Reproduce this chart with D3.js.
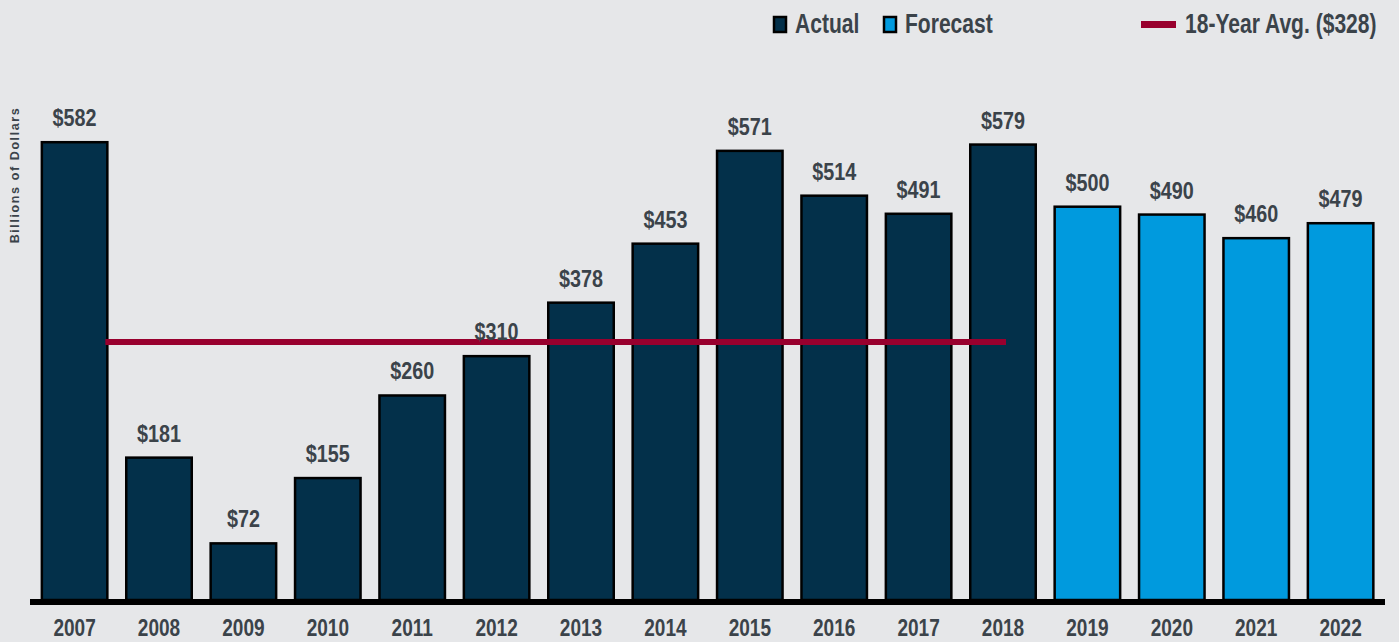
<!DOCTYPE html>
<html>
<head>
<meta charset="utf-8">
<script src="https://cdn.jsdelivr.net/npm/d3@7"></script>
<style>
  body { margin: 0; background: #e6e7e9; }
  text { font-family: 'Liberation Sans', Arial, sans-serif; font-weight: bold; fill: #3b434a; }
</style>
</head>
<body>
<div id="chart"></div>
<script>
const years = ['2007', '2008', '2009', '2010', '2011', '2012', '2013', '2014', '2015', '2016', '2017', '2018', '2019', '2020', '2021', '2022']
const values = [582, 181, 72, 155, 260, 310, 378, 453, 571, 514, 491, 579, 500, 490, 460, 479]
const kinds = ['Actual', 'Actual', 'Actual', 'Actual', 'Actual', 'Actual', 'Actual', 'Actual', 'Actual', 'Actual', 'Actual', 'Actual', 'Forecast', 'Forecast', 'Forecast', 'Forecast']
const avgValue = 328
const avgFrom = '2007'
const avgTo = '2018'

const W = 1399
const H = 642

const svg = d3
  .select('#chart')
  .append('svg')
  .attr('width', W)
  .attr('height', H)

const x = d3
  .scaleBand()
  .domain(years)
  .range([32.4, 1382.8])
  .paddingInner(0.224)
  .paddingOuter(0.112)

const y = d3
  .scaleLinear()
  .domain([0, 582])
  .range([600, 142.2])

const colorScale = d3.scaleOrdinal().domain(['Actual', 'Forecast']).range(['#03304a', '#009ade'])

const data = years.map((d, i) => ({ year: d, value: values[i], kind: kinds[i] }))

// condensed look: squeeze text horizontally
function squeeze(sel, s) {
  sel.attr('transform', function() {
    const t = d3.select(this)
    return 'translate(' + t.attr('x') + ',' + t.attr('y') + ') scale(' + s + ',1)'
  })
  .attr('x', 0)
  .attr('y', 0)
}

// bars
svg
  .selectAll('.bar')
  .data(data)
  .enter()
  .append('rect')
  .attr('class', 'bar')
  .attr('x', d => x(d.year))
  .attr('y', d => y(d.value))
  .attr('width', x.bandwidth())
  .attr('height', d => y(0) - y(d.value))
  .attr('fill', d => colorScale(d.kind))
  .attr('stroke', '#000')
  .attr('stroke-width', 2.5)

// average line
svg
  .append('line')
  .attr('x1', x(avgFrom) + x.bandwidth() - 2)
  .attr('x2', x(avgTo) + x.bandwidth() / 2 + 3)
  .attr('y1', y(avgValue))
  .attr('y2', y(avgValue))
  .attr('stroke', '#98002e')
  .attr('stroke-width', 6)

// value labels
svg
  .selectAll('.val')
  .data(data)
  .enter()
  .append('text')
  .attr('class', 'val')
  .attr('x', d => x(d.year) + x.bandwidth() / 2)
  .attr('y', d => y(d.value) - 16)
  .attr('text-anchor', 'middle')
  .attr('font-size', 23)
  .text(d => '$' + d.value)
  .call(squeeze, 0.86)

// x axis labels
svg
  .selectAll('.tick-label')
  .data(years)
  .enter()
  .append('text')
  .attr('class', 'tick-label')
  .attr('x', d => x(d) + x.bandwidth() / 2)
  .attr('y', 636)
  .attr('text-anchor', 'middle')
  .attr('font-size', 23.5)
  .text(d => d)
  .call(squeeze, 0.81)

// baseline
svg
  .append('line')
  .attr('x1', 30)
  .attr('x2', 1385)
  .attr('y1', 602)
  .attr('y2', 602)
  .attr('stroke', '#000')
  .attr('stroke-width', 6)

// y label
svg
  .append('text')
  .attr('transform', 'translate(19,175) rotate(-90)')
  .attr('text-anchor', 'middle')
  .attr('font-size', 12.5)
  .style('letter-spacing', '1.6px')
  .text('Billions of Dollars')

// legend
const legend = svg.append('g')
const legendItems = [
  { label: 'Actual', x: 774 },
  { label: 'Forecast', x: 884 }
]
legend
  .selectAll('rect')
  .data(legendItems)
  .enter()
  .append('rect')
  .attr('x', d => d.x)
  .attr('y', 17)
  .attr('width', 12)
  .attr('height', 15)
  .attr('fill', d => colorScale(d.label))
  .attr('stroke', '#000')
  .attr('stroke-width', 2.5)
legend
  .selectAll('text.leg')
  .data(legendItems)
  .enter()
  .append('text')
  .attr('class', 'leg')
  .attr('x', d => d.x + 21)
  .attr('y', 33)
  .attr('font-size', 27)
  .text(d => d.label)
  .call(squeeze, 0.78)

legend
  .append('line')
  .attr('x1', 1141)
  .attr('x2', 1176)
  .attr('y1', 24.5)
  .attr('y2', 24.5)
  .attr('stroke', '#98002e')
  .attr('stroke-width', 7)
legend
  .append('text')
  .attr('x', 1185)
  .attr('y', 33)
  .attr('font-size', 27)
  .text('18-Year Avg. ($' + avgValue + ')')
  .call(squeeze, 0.78)
</script>
</body>
</html>
